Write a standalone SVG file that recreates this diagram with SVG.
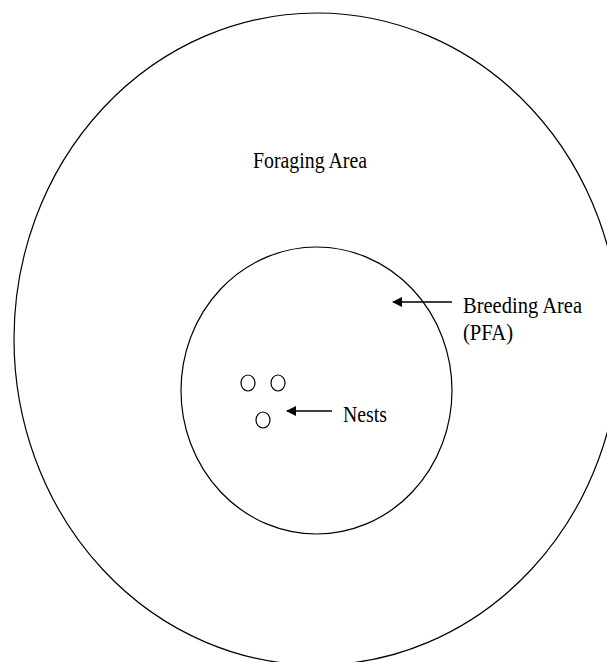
<svg xmlns="http://www.w3.org/2000/svg" width="607" height="662" viewBox="0 0 607 662">
  <style>
    .shape { fill: none; stroke: #000; stroke-width: 1.2; }
    .lbl { font-family: "Liberation Serif", "Times New Roman", serif; font-size: 23px; fill: #000; }
    .conn { stroke: #000; stroke-width: 1.5; fill: none; }
  </style>
  <defs>
    <marker id="arrow" viewBox="0 0 10 10" refX="9" refY="5" markerWidth="10" markerHeight="10" markerUnits="userSpaceOnUse" orient="auto">
      <path d="M0,0 L10,5 L0,10 z" fill="#000"/>
    </marker>
  </defs>
  <rect width="607" height="662" fill="#fff"/>
  <g id="foraging-area">
    <ellipse class="shape" cx="317" cy="339" rx="303" ry="326"/>
    <text class="lbl" x="253" y="168" textLength="114" lengthAdjust="spacingAndGlyphs">Foraging Area</text>
  </g>
  <g id="breeding-area">
    <ellipse class="shape" cx="316.5" cy="390.5" rx="135.5" ry="143.5"/>
    <text class="lbl" x="463" y="313" textLength="119" lengthAdjust="spacingAndGlyphs">Breeding Area</text>
    <text class="lbl" x="463" y="340" textLength="50" lengthAdjust="spacingAndGlyphs">(PFA)</text>
  </g>
  <g id="nests">
    <ellipse class="shape" cx="248" cy="383" rx="7" ry="8"/>
    <ellipse class="shape" cx="278" cy="383" rx="7" ry="8"/>
    <ellipse class="shape" cx="263" cy="420" rx="7" ry="8"/>
    <text class="lbl" x="343" y="422" textLength="44" lengthAdjust="spacingAndGlyphs">Nests</text>
  </g>
  <g id="connectors">
    <line class="conn" x1="452" y1="302" x2="393" y2="302" marker-end="url(#arrow)"/>
    <line class="conn" x1="332" y1="411" x2="287" y2="411" marker-end="url(#arrow)"/>
  </g>
</svg>
